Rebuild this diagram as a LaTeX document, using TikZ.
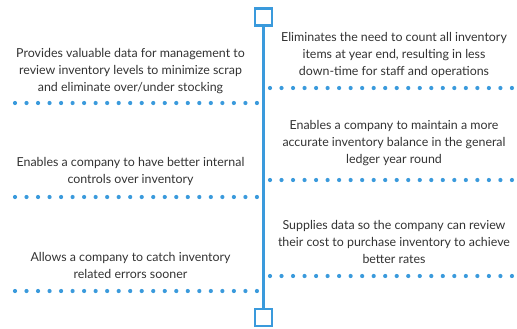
\documentclass[tikz,border=0pt]{standalone}
\usepackage{fontspec}
\setmainfont{Lato}
\definecolor{tlblue}{HTML}{3A9ADC}
\definecolor{tltext}{HTML}{333333}
\begin{document}
\begin{tikzpicture}[x=1bp,y=-1bp,
  marker/.style={draw=tlblue, line width=2.6bp, minimum size=17bp, inner sep=0pt, fill=white},
  spine/.style={draw=tlblue, line width=2.6bp},
  dotrow/.style={draw=tlblue, line width=4.2bp, line cap=round, dash pattern=on 0bp off 11.52bp},
  item/.style={text=tltext, font=\fontsize{12.4bp}{17bp}\selectfont, align=center, inner sep=0pt}]
\useasboundingbox (0,0) rectangle (517,328);

% timeline spine with end markers
\node[marker] (top) at (263.5,17) {};
\node[marker] (bot) at (263.5,317.5) {};
\draw[spine] (top) -- (bot);

% right-hand entries
\node[item] (r1) at (394,55) {Eliminates the need to count all inventory\\items at year end, resulting in less\\down-time for staff and operations};
\node[item] (r2) at (394,143) {Enables a company to maintain a more\\accurate inventory balance in the general\\ledger year round};
\node[item] (r3) at (394,242) {Supplies data so the company can review\\their cost to purchase inventory to achieve\\better rates};

% left-hand entries
\node[item] (l1) at (130.5,71) {Provides valuable data for management to\\review inventory levels to minimize scrap\\and eliminate over/under stocking};
\node[item] (l2) at (130.5,171.5) {Enables a company to have better internal\\controls over inventory};
\node[item] (l3) at (130.5,265.5) {Allows a company to catch inventory\\related errors sooner};

% dotted separators
\coordinate (r1a) at (270,88);  \coordinate (r1b) at (512,88);
\coordinate (r2a) at (270,180); \coordinate (r2b) at (512,180);
\coordinate (r3a) at (270,276); \coordinate (r3b) at (512,276);
\coordinate (l1a) at (15,103);  \coordinate (l1b) at (257,103);
\coordinate (l2a) at (15,197);  \coordinate (l2b) at (257,197);
\coordinate (l3a) at (15,291);  \coordinate (l3b) at (257,291);
\foreach \s in {r1,r2,r3,l1,l2,l3}
  \draw[dotrow] (\s a) -- (\s b);
\end{tikzpicture}
\end{document}
